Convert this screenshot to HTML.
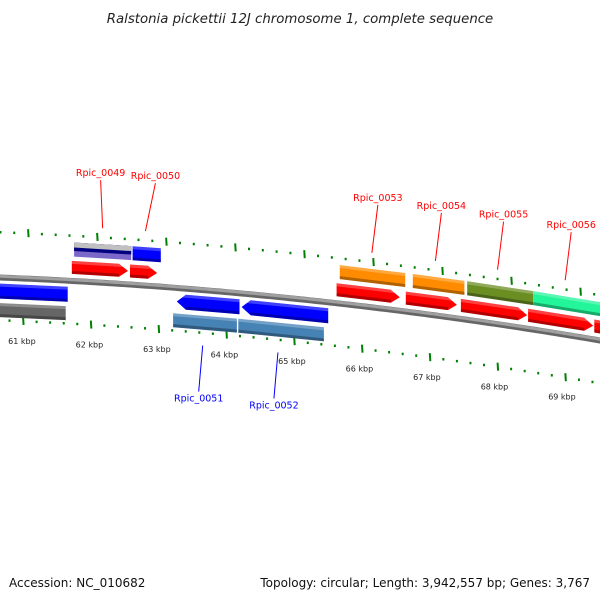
<!DOCTYPE html>
<html><head><meta charset="utf-8">
<style>
html,body{margin:0;padding:0;background:#fff;}
svg{display:block;font-family:"DejaVu Sans","Liberation Sans",sans-serif;}
</style></head>
<body>
<svg id="map" width="600" height="600" viewBox="0 0 600 600" xmlns="http://www.w3.org/2000/svg">
<text x="300" y="23" text-anchor="middle" font-size="13.3" font-style="italic" fill="#222">Ralstonia pickettii 12J chromosome 1, complete sequence</text>
<g id="ticks"></g>
<g id="backbone"></g>
<g id="features"></g>
<g id="labels"></g>
<text x="9" y="587" font-size="12" fill="#111">Accession: NC_010682</text>
<text x="590" y="587" text-anchor="end" font-size="12" fill="#111">Topology: circular; Length: 3,942,557 bp; Genes: 3,767</text>
</svg>
<script>
const fwdCds = [[61665,62484],[62513,62908],[65525,66446],[66534,67279],[67338,68303],[68317,69267],[69282,70800]];
const fwdCog = [[61680,62510],[62530,62940],[65540,66490],[66600,67350],[67390,68350],[68350,69500]];
const fwdCogColors = ['stripe','#0000ff','#ff8c00','#ff8c00','#6b8e23','#22f59a'];
const revCds = [[60400,61630],[63230,64150],[64180,65450]];
const revCog = [[60400,61620],[63200,64140],[64160,65420]];
const revCogColors = ['#666666','#4682b4','#4682b4'];
const geneNames = ['Rpic_0049','Rpic_0050','Rpic_0053','Rpic_0054','Rpic_0055','Rpic_0056','Rpic_0051','Rpic_0052'];
const geneBp = [62080,62700,65980,66900,67800,68780,63650,64760];
const geneStrand = [1,1,1,1,1,1,-1,-1];
const tickStart = 60600, tickEnd = 70400, tickStep = 200;

const NS='http://www.w3.org/2000/svg';
function by(x){return 277+0.040*x+1.083e-4*x*x;}
function xAt(bp,off){return 25.5-0.057*off+(bp-61000)/1000*(68.4-0.0142*off);}
function el(tag,attrs,parent){const e=document.createElementNS(NS,tag);for(const k in attrs)e.setAttribute(k,attrs[k]);parent.appendChild(e);return e;}

const bb=document.getElementById('backbone');
let d='';for(let x=-5;x<=605;x+=5){d+=(x==-5?'M':'L')+x+','+by(x).toFixed(2);}
const p1=el('path',{d:d,stroke:'#666',"stroke-width":6,fill:'none',transform:'translate(0,0.5)'},bb);


const p2=el('path',{d:d,stroke:'#a0a0a0',"stroke-width":3,fill:'none',transform:'translate(0,-0.7)'},bb);



const fg=document.getElementById('features');
function feat(b1,b2,off,h,color,arrow,name){
  const x1=xAt(b1,off),x2=xAt(b2,off);
  const g=el('g',{},fg);
  
  
  const pts=[];
  const top=x=>by(x)+off-h/2, bot=x=>by(x)+off+h/2, mid=x=>by(x)+off;
  const ah=9;
  if(arrow===1){
    const xa=x2-ah;
    pts.push([x1,top(x1)],[xa,top(xa)],[x2,mid(x2)],[xa,bot(xa)],[x1,bot(x1)]);
  } else if(arrow===-1){
    const xa=x1+ah;
    pts.push([x1,mid(x1)],[xa,top(xa)],[x2,top(x2)],[x2,bot(x2)],[xa,bot(xa)]);
  } else {
    pts.push([x1,top(x1)],[x2,top(x2)],[x2,bot(x2)],[x1,bot(x1)]);
  }
  const ps=pts.map(p=>p[0].toFixed(1)+','+p[1].toFixed(1)).join(' ');
  if(color==='stripe'){
    el('polygon',{points:ps,fill:'#7b68c8'},g);
    const q=[[x1,top(x1)],[x2,top(x2)],[x2,top(x2)+h*0.6],[x1,top(x1)+h*0.6]].map(p=>p.join(',')).join(' ');
    el('polygon',{points:q,fill:'#000080'},g);
    const r=[[x1,top(x1)],[x2,top(x2)],[x2,top(x2)+h*0.35],[x1,top(x1)+h*0.35]].map(p=>p.join(',')).join(' ');
    el('polygon',{points:r,fill:'#c0c0c0'},g);
  } else {
    el('polygon',{points:ps,fill:color},g);
    const t=[[x1,top(x1)],[x2,top(x2)],[x2,top(x2)+3],[x1,top(x1)+3]];
    el('polygon',{points:t.map(p=>p.join(',')).join(' '),fill:'#fff',"fill-opacity":0.25},g);
    const bx2=arrow===1?x2-ah:x2, bx1=arrow===-1?x1+ah:x1;
    const b=[[bx1,bot(bx1)-3],[bx2,bot(bx2)-3],[bx2,bot(bx2)],[bx1,bot(bx1)]];
    el('polygon',{points:b.map(p=>p.join(',')).join(' '),fill:'#000',"fill-opacity":0.3},g);
  }
}
fwdCds.forEach((f,i)=>feat(f[0],f[1],-13,13,'#ff0000',1,'forward-cds-'+i));
fwdCog.forEach((f,i)=>feat(f[0],f[1],-31,14,fwdCogColors[i],0,'forward-cog-'+i));
revCds.forEach((f,i)=>feat(f[0],f[1],14,15,'#0000ff',i===0?0:-1,'reverse-cds-'+i));
revCog.forEach((f,i)=>feat(f[0],f[1],33,14,revCogColors[i],0,'reverse-cog-'+i));

const tg=document.getElementById('ticks');
for(let bp=tickStart;bp<=tickEnd;bp+=tickStep){
  const major=bp%1000===0;
  [-45,43].forEach(off=>{
    const x=xAt(bp,off), y=by(x)+off;
    if(major){
      const l=el('line',{x1:x,y1:y-4,x2:x+0.5,y2:y+4,stroke:'#008000',"stroke-width":2},tg);
      
      
    } else {
      const r=el('rect',{x:x-1,y:y-1,width:2,height:2.5,fill:'#008000'},tg);
      
      
    }
  });
  if(major){
    const x=xAt(bp,63), y=by(x)+63;
    const t=el('text',{x:x,y:y+3,"text-anchor":'middle',"font-size":8,fill:'#222'},tg);
    t.textContent=(bp/1000)+' kbp';
    
    
  }
}

const lg=document.getElementById('labels');
geneNames.forEach((n,i)=>{
  const s=geneStrand[i];
  const col=s===1?'#ff0000':'#0000ff';
  if(s===1){
    const x=xAt(geneBp[i],-45), y=by(x)-54;
    const lx=x+(i<2?(i===0?-2:10):6), ly=y-48;
    const l=el('line',{x1:x,y1:y,x2:lx,y2:ly,stroke:col,"stroke-width":1},lg);
    
    
    const t=el('text',{x:lx,y:ly-4,"text-anchor":'middle',"font-size":9.5,fill:col},lg);
    t.textContent=n;
    
    
  } else {
    const x=xAt(geneBp[i],43), y=by(x)+56;
    const lx=x-4, ly=y+46;
    const l=el('line',{x1:x,y1:y,x2:lx,y2:ly,stroke:col,"stroke-width":1},lg);
    
    
    const t=el('text',{x:lx,y:ly+10,"text-anchor":'middle',"font-size":9.5,fill:col},lg);
    t.textContent=n;
    
    
  }
});
</script>
</body></html>
